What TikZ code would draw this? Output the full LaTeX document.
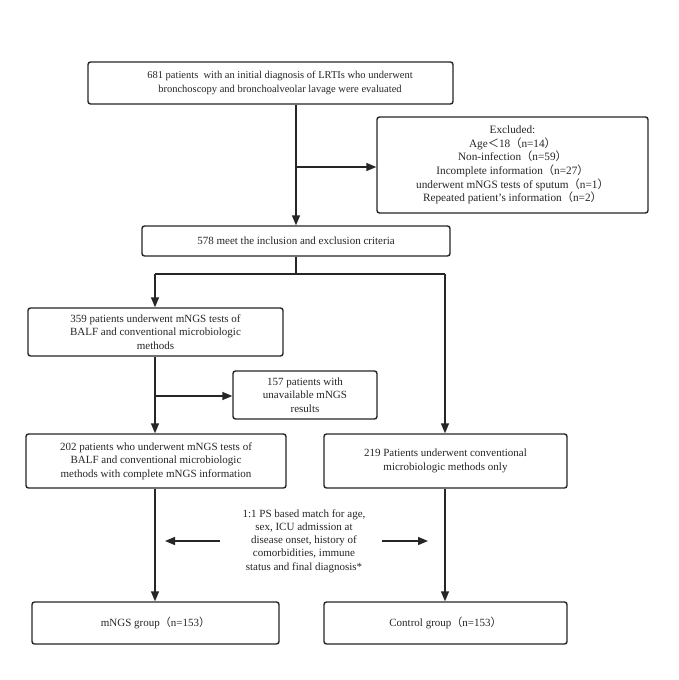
\documentclass[tikz,border=0pt]{standalone}
\usepackage{fontspec}
\setmainfont{Liberation Serif}
\newfontfamily\cjkfw{Noto Sans CJK SC}
\usetikzlibrary{arrows.meta}
\newcommand{\fwlp}{{\cjkfw （}}
\newcommand{\fwrp}{{\cjkfw ）}}
\newcommand{\fwlt}{{\cjkfw ＜}}
\definecolor{linec}{HTML}{262626}
\definecolor{textc}{HTML}{262626}
\begin{document}
\begin{tikzpicture}[x=1pt,y=-1pt,
  box/.style={draw=linec, line width=1.4pt, rounded corners=2.5pt, align=center,
    inner sep=0pt, fill=white, text=textc, font=\fontsize{11}{13.5}\selectfont},
  plain/.style={align=center, inner sep=0pt, text=textc, font=\fontsize{11}{13.3}\selectfont},
  ln/.style={draw=linec, line width=1.4pt},
  arr/.style={draw=linec, line width=1.4pt, -{Triangle[length=10pt,width=8pt]}}]
\useasboundingbox[fill=white] (0,0) rectangle (678,680);

\node[box, minimum width=365pt, minimum height=42pt] (top) at (270.5,83) {};
\node[plain, font=\fontsize{10.5}{14}\selectfont] (toptext) at (280,83)
  {681 patients\ \ with an initial diagnosis of LRTIs who underwent\\
   bronchoscopy and bronchoalveolar lavage were evaluated};
\node[box, minimum width=271pt, minimum height=96pt, font=\fontsize{11.25}{13.7}\selectfont] (excl) at (512.5,165)
  {Excluded:\\
   Age\fwlt 18\fwlp n=14\fwrp\\
   Non-infection\fwlp n=59\fwrp\\
   Incomplete information\fwlp n=27\fwrp\\
   underwent mNGS tests of sputum\fwlp n=1\fwrp\\
   Repeated patient's information\fwlp n=2\fwrp};
\node[box, minimum width=308pt, minimum height=30pt] (crit) at (296,241)
  {578 meet the inclusion and exclusion criteria};
\node[box, minimum width=255pt, minimum height=48pt] (b359) at (155.5,332)
  {359 patients underwent mNGS tests of\\
   BALF and conventional microbiologic\\
   methods};
\node[box, minimum width=144pt, minimum height=48pt] (b157) at (305,395)
  {157 patients with\\
   unavailable mNGS\\
   results};
\node[box, minimum width=260pt, minimum height=54pt] (b202) at (156,461)
  {202 patients who underwent mNGS tests of\\
   BALF and conventional microbiologic\\
   methods with complete mNGS information};
\node[box, minimum width=243pt, minimum height=54pt] (b219) at (445.5,461)
  {219 Patients underwent conventional\\
   microbiologic methods only};
\node[box, minimum width=247pt, minimum height=42pt] (mngs) at (155.5,623)
  {mNGS group\fwlp n=153\fwrp};
\node[box, minimum width=243pt, minimum height=42pt] (ctrl) at (445.5,623)
  {Control group\fwlp n=153\fwrp};
\node[plain] (ps) at (304,541)
  {1:1 PS based match for age,\\
   sex, ICU admission at\\
   disease onset, history of\\
   comorbidities, immune\\
   status and final diagnosis*};

% top -> excluded / criteria
\coordinate (ex) at (296,167);
\draw[ln] (top.south -| crit.north) -- (ex);
\draw[arr] (ex) -- (ex -| excl.west);
\draw[arr] (ex) -- (crit.north);

% split
\coordinate (sp) at (296,274);
\coordinate (spl) at (155,274);
\coordinate (spr) at (445,274);
\draw[ln] (crit.south) -- (sp);
\draw[ln] (spl) -- (spr);
\draw[arr] (spl) -- (spl |- b359.north);
\draw[arr] (spr) -- (spr |- b219.north);

% left column
\coordinate (mid) at (155,396);
\draw[ln] (mid |- b359.south) -- (mid);
\draw[arr] (mid) -- (mid -| b157.west);
\draw[arr] (mid) -- (mid |- b202.north);
\draw[arr] (spl |- b202.south) -- (spl |- mngs.north);

% right column
\draw[arr] (spr |- b219.south) -- (spr |- ctrl.north);

% PS arrows
\coordinate (plt) at (220,541);
\coordinate (plh) at (165,541);
\coordinate (prt) at (382,541);
\coordinate (prh) at (428,541);
\draw[arr] (plt) -- (plh);
\draw[arr] (prt) -- (prh);
\end{tikzpicture}
\end{document}
